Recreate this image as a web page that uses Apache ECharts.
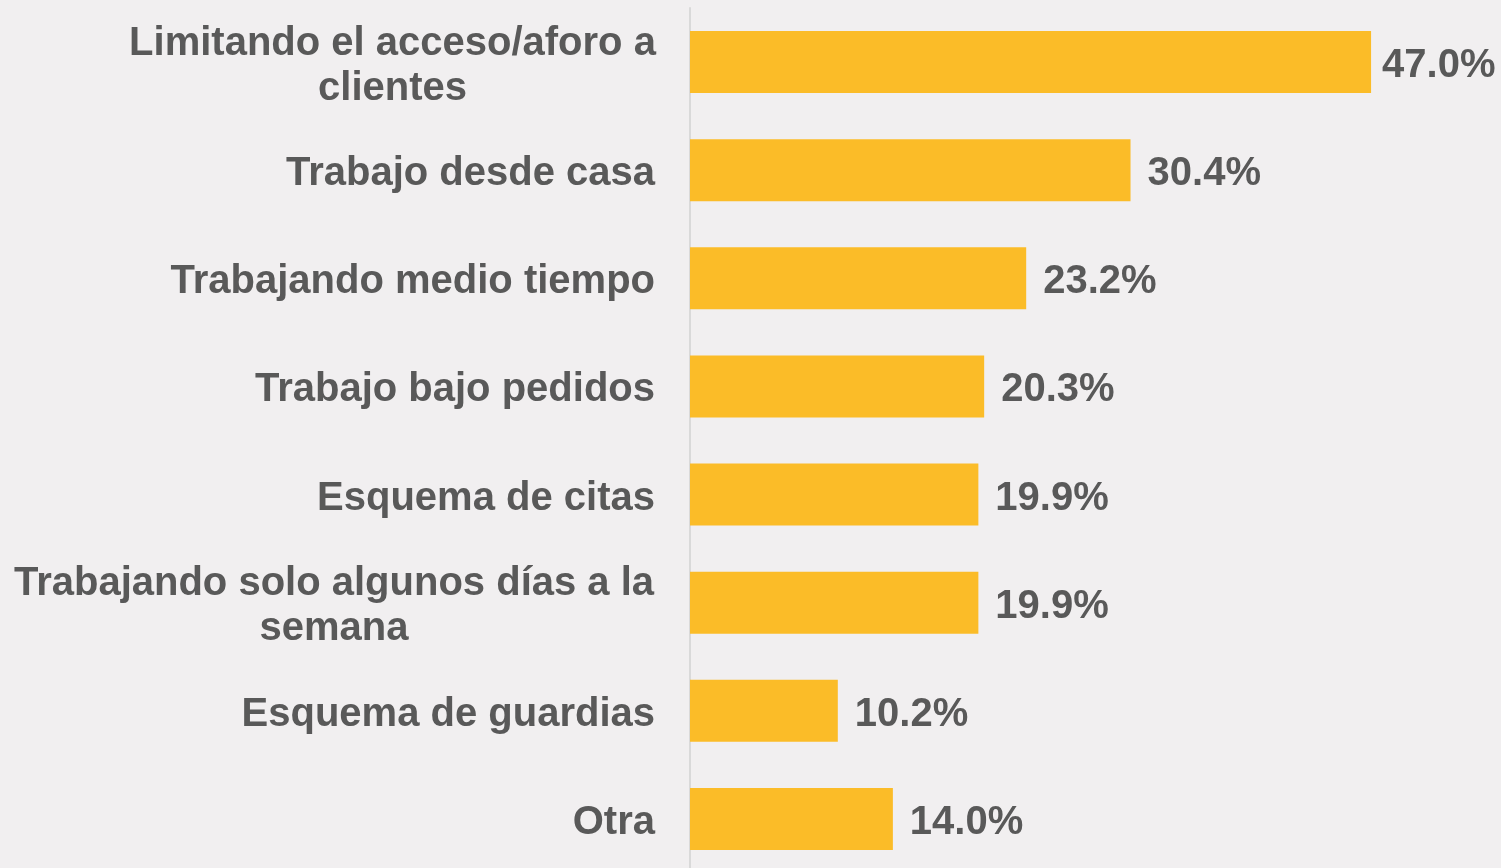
<!DOCTYPE html>
<html>
<head>
<meta charset="utf-8">
<script src="https://cdn.jsdelivr.net/npm/echarts@6/dist/echarts.min.js"></script>
<style>
  html, body { margin: 0; padding: 0; background: #f1eff0; overflow: hidden; }
  #chart { width: 1501px; height: 876px; }
</style>
</head>
<body>
<div id="chart"></div>
<script>
// categorias (de arriba a abajo) y porcentajes
const categorias = [
    'Limitando el acceso/aforo a\nclientes',
    'Trabajo desde casa',
    'Trabajando medio tiempo',
    'Trabajo bajo pedidos',
    'Esquema de citas',
    'Trabajando solo algunos días a la\nsemana',
    'Esquema de guardias',
    'Otra'
];
const valores = [47.0, 30.4, 23.2, 20.3, 19.9, 19.9, 10.2, 14.0];

// ancho de la primera linea de las etiquetas partidas (para centrar)
const anchoLinea = {
    'Limitando el acceso/aforo a\nclientes': 525,
    'Trabajando solo algunos días a la\nsemana': 642
};

const fuente = 'Liberation Sans, Arial, sans-serif';
const gris = '#595959';

function estiloTexto(extra) {
    return Object.assign({
        fontFamily: fuente,
        fontWeight: 'bold',
        fontSize: 40,
        color: gris,
        lineHeight: 45
    }, extra || {});
}

// la primera etiqueta va mas pegada a la barra (no cabe)
const datos = valores.map(function (v, i) {
    if (i === 0) {
        return { value: v, label: { distance: 11 } };
    }
    return v;
});

const chart = echarts.init(document.getElementById('chart'));

chart.setOption({
    backgroundColor: '#f1eff0',
    animation: false,
    grid: { left: 690, top: 8, width: 797, height: 865 },
    xAxis: {
        type: 'value',
        min: 0,
        max: 55,
        show: false
    },
    yAxis: {
        type: 'category',
        inverse: true,
        data: categorias,
        axisLine: { show: true, lineStyle: { color: '#d9d9d9', width: 2 } },
        axisTick: { show: false },
        axisLabel: estiloTexto({
            margin: 35,
            padding: [8, 0, 0, 0],
            formatter: function (v) {
                if (anchoLinea[v]) {
                    const key = anchoLinea[v] > 600 ? 'w2' : 'w1';
                    return v.split('\n').map(function (l) { return '{' + key + '|' + l + '}'; }).join('\n');
                }
                return v;
            },
            rich: {
                w1: estiloTexto({ width: anchoLinea['Limitando el acceso/aforo a\nclientes'], align: 'center' }),
                w2: estiloTexto({ width: anchoLinea['Trabajando solo algunos días a la\nsemana'], align: 'center' })
            }
        })
    },
    series: [{
        type: 'bar',
        data: datos,
        barWidth: 62,
        itemStyle: { color: '#fbbc28' },
        label: estiloTexto({
            show: true,
            position: 'right',
            distance: 17,
            offset: [0, 4],
            formatter: function (p) { return p.value.toFixed(1) + '%'; }
        })
    }]
});
</script>
</body>
</html>
